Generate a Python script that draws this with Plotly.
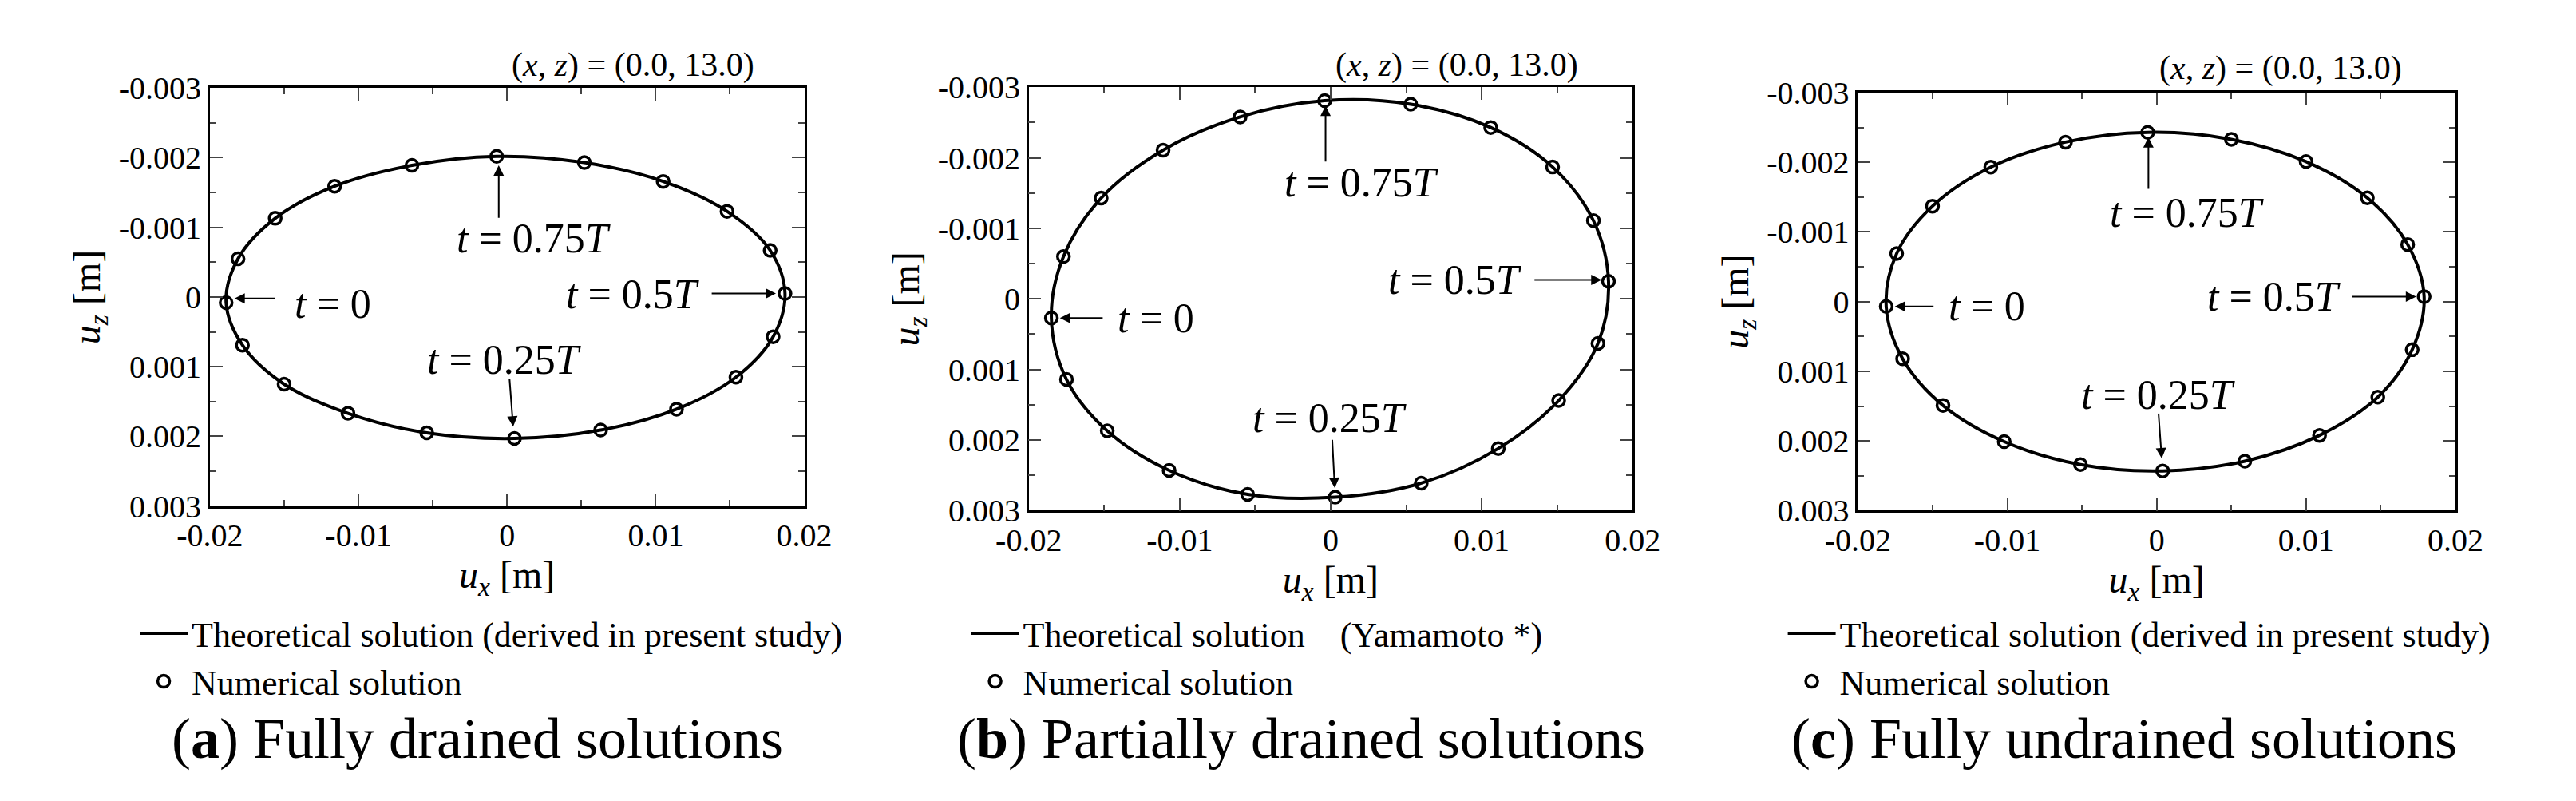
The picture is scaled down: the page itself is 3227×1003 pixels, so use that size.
import plotly.graph_objects as go

# ---------------- data ----------------
a_ux = [-0.0007, 0.0052, 0.0105, 0.0148, 0.0177, 0.0187, 0.0179, 0.0154, 0.0114, 0.0063,
        0.0005, -0.0054, -0.0107, -0.0150, -0.0178, -0.0189, -0.0181, -0.0156, -0.0116, -0.0064]
a_uz = [-0.00202, -0.00193, -0.00166, -0.00123, -0.00067, -0.00005, 0.00057, 0.00115, 0.00161, 0.00191,
        0.00203, 0.00195, 0.00167, 0.00125, 0.00069, 0.00008, -0.00055, -0.00113, -0.00159, -0.00189]
b_ux = [-0.0004, 0.0053, 0.0106, 0.0147, 0.0174, 0.0184, 0.0177, 0.0151, 0.0111, 0.0060,
        0.0003, -0.0055, -0.0107, -0.0148, -0.0175, -0.0185, -0.0177, -0.0152, -0.0111, -0.0060]
b_uz = [-0.00281, -0.00276, -0.00243, -0.00187, -0.00111, -0.00025, 0.00063, 0.00144, 0.00212, 0.00261,
        0.00281, 0.00277, 0.00243, 0.00187, 0.00114, 0.00027, -0.00060, -0.00143, -0.00211, -0.00258]
c_ux = [-0.0006, 0.0050, 0.0100, 0.0141, 0.0168, 0.0179, 0.0171, 0.0148, 0.0109, 0.0059,
        0.0004, -0.0051, -0.0102, -0.0143, -0.0170, -0.0181, -0.0174, -0.0150, -0.0111, -0.0061]
c_uz = [-0.00243, -0.00233, -0.00201, -0.00149, -0.00082, -0.00007, 0.00069, 0.00137, 0.00192, 0.00229,
        0.00243, 0.00234, 0.00201, 0.00149, 0.00082, 0.00007, -0.00069, -0.00137, -0.00193, -0.00229]

x_tickvals = [-0.02, -0.01, 0, 0.01, 0.02]
x_ticktext = ["-0.02", "-0.01", "0", "0.01", "0.02"]
y_tickvals = [-0.003, -0.002, -0.001, 0, 0.001, 0.002, 0.003]
y_ticktext = ["-0.003", "-0.002", "-0.001", "0", "0.001", "0.002", "0.003"]

captions = ["<b>a</b>", "<b>b</b>", "<b>c</b>"]
caption_texts = ["Fully drained solutions", "Partially drained solutions", "Fully undrained solutions"]
theory_names = ["Theoretical solution (derived in present study)",
                "Theoretical solution    (Yamamoto *)",
                "Theoretical solution (derived in present study)"]
point_label = "(<i>x</i>, <i>z</i>) = (0.0, 13.0)"

# annotation label positions per panel: (label, text_x, text_y, tail_x, tail_y, head_x, head_y)
arrows = [
    [("0.75", 0.0018, -0.00084, -0.00056, -0.00112, -0.00056, -0.00189),
     ("0", -0.01174, 0.0001, -0.01553, 0.00002, -0.01834, 0.00002),
     ("0.5", 0.00846, -0.00004, 0.01369, -0.00005, 0.01809, -0.00005),
     ("0.25", -0.0002, 0.0009, 0.00016, 0.00116, 0.00041, 0.00186)],
    [("0.75", 0.00204, -0.00165, -0.00034, -0.00193, -0.00034, -0.00274),
     ("0", -0.01158, 0.00027, -0.01502, 0.00027, -0.01794, 0.00027),
     ("0.5", 0.0082, -0.00027, 0.01342, -0.00027, 0.01794, -0.00027),
     ("0.25", -0.0001, 0.00169, 0.0001, 0.00198, 0.00027, 0.00268)],
    [("0.75", 0.0020, -0.00128, -0.00055, -0.0016, -0.00055, -0.00236),
     ("0", -0.01138, 0.00007, -0.01485, 0.00007, -0.01752, 0.00007),
     ("0.5", 0.00786, -0.00007, 0.0130, -0.00007, 0.01737, -0.00007),
     ("0.25", 0.0001, 0.00134, 0.00012, 0.00159, 0.00034, 0.00225)],
]

# ---------------- layout geometry ----------------
W, H = 3227, 1003
xdoms = [(218, 981), (1269, 2044), (2333, 3100)]
ydoms = [(84, 632), (83, 638), (90, 638)]
point_pos = [(761, 54), (1818, 54), (2876, 58)]
legend_pos = [(123, 762), (1190, 762), (2238, 762)]
caption_pos = [(561, 937), (1619, 937), (2675, 937)]

FONT = "Liberation Serif"
fig = go.Figure()
datasets = [(a_ux, a_uz), (b_ux, b_uz), (c_ux, c_uz)]
annotations = []
for i, (ux, uz) in enumerate(datasets):
    sfx = "" if i == 0 else str(i + 1)
    leg = "legend" + sfx
    fig.add_trace(go.Scatter(x=ux + ux[:1], y=uz + uz[:1], mode="lines",
                             line=dict(color="black", width=4, shape="spline", smoothing=1.0),
                             name=theory_names[i], xaxis="x" + sfx, yaxis="y" + sfx, legend=leg))
    fig.add_trace(go.Scatter(x=ux, y=uz, mode="markers",
                             marker=dict(symbol="circle-open", size=15, color="black", line=dict(width=3.5)),
                             name="Numerical solution", xaxis="x" + sfx, yaxis="y" + sfx, legend=leg))
    fig.update_layout(**{
        "xaxis" + sfx: dict(domain=[xdoms[i][0] / W, xdoms[i][1] / W], anchor="y" + sfx,
                            range=[-0.02, 0.02], tickvals=x_tickvals, ticktext=x_ticktext,
                            ticks="inside", ticklen=16, tickwidth=2, mirror="allticks",
                            showline=True, linecolor="black", linewidth=2.5, showgrid=False, zeroline=False,
                            minor=dict(dtick=0.005, ticks="inside", ticklen=8, tickwidth=2),
                            tickfont=dict(family=FONT, size=40, color="black"),
                            title=dict(text="<i>u</i><sub><i>x</i></sub> [m]", standoff=6,
                                       font=dict(family=FONT, size=48, color="black"))),
        "yaxis" + sfx: dict(domain=[1 - ydoms[i][1] / H, 1 - ydoms[i][0] / H], anchor="x" + sfx,
                            range=[0.003, -0.003], tickvals=y_tickvals, ticktext=y_ticktext,
                            ticks="inside", ticklen=16, tickwidth=2, mirror="allticks",
                            showline=True, linecolor="black", linewidth=2.5, showgrid=False, zeroline=False,
                            minor=dict(dtick=0.0005, ticks="inside", ticklen=8, tickwidth=2),
                            tickfont=dict(family=FONT, size=40, color="black"),
                            title=dict(text="<i>u</i><sub><i>z</i></sub> [m]", standoff=8,
                                       font=dict(family=FONT, size=48, color="black"))),
        leg: dict(x=legend_pos[i][0] / W, y=1 - legend_pos[i][1] / H, xanchor="left", yanchor="top",
                  font=dict(family=FONT, size=44, color="black"), bgcolor="rgba(0,0,0,0)",
                  itemwidth=60, tracegroupgap=0),
    })
    annotations.append(dict(text=point_label, x=point_pos[i][0] / W, y=1 - point_pos[i][1] / H,
                            xref="paper", yref="paper", xanchor="center", yanchor="middle",
                            showarrow=False, font=dict(family=FONT, size=42, color="black")))
    annotations.append(dict(text="(" + captions[i] + ") " + caption_texts[i],
                            x=caption_pos[i][0] / W, y=1 - caption_pos[i][1] / H,
                            xref="paper", yref="paper", xanchor="center", yanchor="middle",
                            showarrow=False, font=dict(family=FONT, size=72, color="black")))
    for lab, tx, ty, sx, sy, hx, hy in arrows[i]:
        annotations.append(dict(text="<i>t</i> = " + lab + ("<i>T</i>" if lab != "0" else ""),
                                x=tx, y=ty, xref="x" + sfx, yref="y" + sfx, xanchor="center",
                                yanchor="middle", showarrow=False,
                                font=dict(family=FONT, size=52, color="black")))
        annotations.append(dict(text="", x=hx, y=hy, ax=sx, ay=sy, xref="x" + sfx, yref="y" + sfx,
                                axref="x" + sfx, ayref="y" + sfx, showarrow=True,
                                arrowhead=2, arrowsize=1.3, arrowwidth=2, arrowcolor="black", standoff=0))

fig.update_layout(width=W, height=H, margin=dict(l=0, r=0, t=0, b=0),
                  paper_bgcolor="white", plot_bgcolor="white", showlegend=True,
                  annotations=annotations)
fig.write_html("out.html")
